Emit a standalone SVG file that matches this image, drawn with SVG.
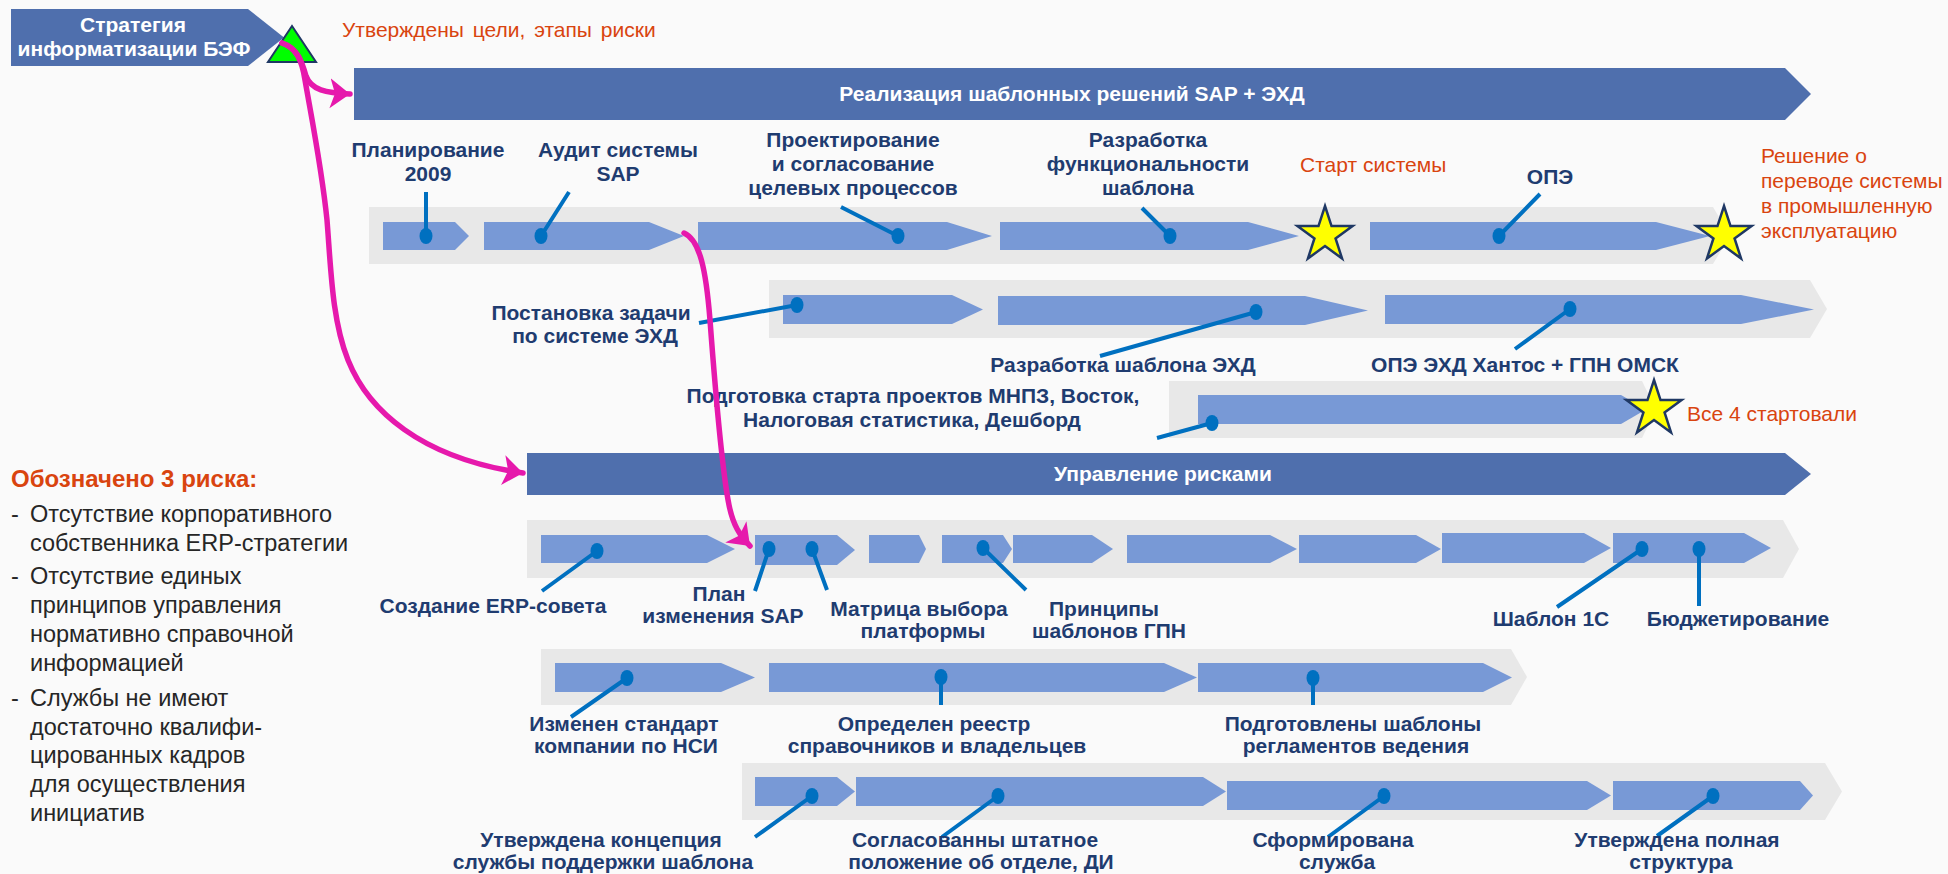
<svg xmlns="http://www.w3.org/2000/svg" xmlns:xlink="http://www.w3.org/1999/xlink" width="1948" height="874" viewBox="0 0 1948 874">
<defs>
<style>
.bg{fill:#FAFAFA}
.band{fill:#E8E8E8}
.chev{fill:#7899D6}
.hdr{fill:#4F6FAD}
.dot{fill:#0070C0}
.lead{stroke:#0070C0;stroke-width:4;fill:none}
.lbl{font-family:"Liberation Sans",Arial,sans-serif;font-weight:bold;font-size:21px;fill:#1F3C70;text-anchor:middle}
.org{font-family:"Liberation Sans",Arial,sans-serif;font-size:21px;fill:#D9440F}
.wht{font-family:"Liberation Sans",Arial,sans-serif;font-weight:bold;font-size:21px;fill:#FFFFFF;text-anchor:middle}
.risk{font-family:"Liberation Sans",Arial,sans-serif;font-size:23.5px;fill:#262626}
.star{fill:#FFFF00;stroke:#1F3864;stroke-width:2.5;stroke-linejoin:miter}
.mag{stroke:#E619AC;stroke-width:5.5;fill:none;stroke-linecap:round}
</style>
<polygon id="star" points="0,-29 6.52,-8.98 27.58,-8.96 10.56,3.43 17.05,23.46 0,11.1 -17.05,23.46 -10.56,3.43 -27.58,-8.96 -6.52,-8.98"/>
<marker id="ah" markerUnits="userSpaceOnUse" markerWidth="24" markerHeight="32" refX="20" refY="15" orient="auto" viewBox="0 0 24 32">
<path d="M0,0 L20,15 L0,30 L5,15 Z" fill="#E619AC"/>
</marker>
</defs>
<rect class="bg" x="0" y="0" width="1948" height="874"/>

<g id="strategy">
<path class="hdr" d="M11,9 L248,9 L284,37.5 L248,66 L11,66 Z"/>
<text class="wht" x="133" y="32">Стратегия</text>
<text class="wht" x="134" y="56">информатизации БЭФ</text>
</g>
<g id="milestone-start">
<polygon points="292,26 268,62 316,62" fill="#00FF00" stroke="#1F3864" stroke-width="2"/>
<text class="org" x="342" y="37" word-spacing="3">Утверждены цели, этапы риски</text>
</g>

<g id="header-sap">
<path class="hdr" d="M354,68 L1785,68 L1811,94 L1785,120 L354,120 Z"/>
<text class="wht" x="1072" y="101">Реализация шаблонных решений SAP + ЭХД</text>
</g>

<g id="row1">
<path class="band" d="M369,207 L1713,207 L1730,235.5 L1713,264 L369,264 Z"/>
<path class="chev" d="M383,222 L455,222 L469,236 L455,250 L383,250 Z"/>
<path class="chev" d="M484,222 L649,222 L684,236 L649,250 L484,250 Z"/>
<path class="chev" d="M698,222 L947,222 L992,236 L947,250 L698,250 Z"/>
<path class="chev" d="M1000,222 L1248,222 L1299,236 L1248,250 L1000,250 Z"/>
<path class="chev" d="M1370,222 L1656,222 L1710,236 L1656,250 L1370,250 Z"/>
</g>
<g id="star-start"><use xlink:href="#star" href="#star" class="star" x="1325" y="235"/>
<text class="org" x="1300" y="172">Старт системы</text></g>
<g id="star-decision"><use xlink:href="#star" href="#star" class="star" x="1724" y="235"/>
<text class="org"><tspan x="1761" y="163">Решение о</tspan><tspan x="1761" y="188">переводе системы</tspan><tspan x="1761" y="213">в промышленную</tspan><tspan x="1761" y="238">эксплуатацию</tspan></text></g>

<g id="row2">
<path class="band" d="M769,280 L1810,280 L1827,309 L1810,338 L769,338 Z"/>
<path class="chev" d="M783,295 L952,295 L983,309.5 L952,324 L783,324 Z"/>
<path class="chev" d="M998,296 L1305,296 L1368,310.5 L1305,325 L998,325 Z"/>
<path class="chev" d="M1385,295 L1741,295 L1814,309.5 L1741,324 L1385,324 Z"/>
</g>

<g id="row3">
<path class="band" d="M1169,381 L1642,381 L1656,409.5 L1642,438 L1169,438 Z"/>
<path class="chev" d="M1198,395 L1621,395 L1646,409.5 L1621,424 L1198,424 Z"/>
</g>
<g id="star-all4"><use xlink:href="#star" href="#star" class="star" x="1654" y="409"/>
<text class="org" x="1687" y="421">Все 4 стартовали</text></g>

<g id="header-risk">
<path class="hdr" d="M527,453 L1785,453 L1811,474 L1785,495 L527,495 Z"/>
<text class="wht" x="1163" y="481">Управление рисками</text>
</g>

<g id="row4">
<path class="band" d="M527,520 L1783,520 L1799,549 L1783,578 L527,578 Z"/>
<path class="chev" d="M541,535 L707,535 L735,549 L707,563 L541,563 Z"/>
<path class="chev" d="M755,535 L837,535 L855,550 L837,565 L755,565 Z"/>
<path class="chev" d="M869,535 L919,535 L926,549 L919,563 L869,563 Z"/>
<path class="chev" d="M942,535 L1003,535 L1012,549 L1003,563 L942,563 Z"/>
<path class="chev" d="M1013,535 L1092,535 L1113,549 L1092,563 L1013,563 Z"/>
<path class="chev" d="M1127,535 L1270,535 L1297,549 L1270,563 L1127,563 Z"/>
<path class="chev" d="M1299,535 L1416,535 L1441,549 L1416,563 L1299,563 Z"/>
<path class="chev" d="M1442,533 L1584,533 L1611,548 L1584,563 L1442,563 Z"/>
<path class="chev" d="M1613,533 L1744,533 L1771,548 L1744,563 L1613,563 Z"/>
</g>

<g id="row5">
<path class="band" d="M541,649 L1511,649 L1527,677 L1511,705 L541,705 Z"/>
<path class="chev" d="M555,663 L721,663 L755,677.5 L721,692 L555,692 Z"/>
<path class="chev" d="M769,663 L1164,663 L1197,677.5 L1164,692 L769,692 Z"/>
<path class="chev" d="M1198,663 L1483,663 L1512,677.5 L1483,692 L1198,692 Z"/>
</g>

<g id="row6">
<path class="band" d="M742,763 L1825,763 L1842,791.5 L1825,820 L742,820 Z"/>
<path class="chev" d="M755,777 L837,777 L855,791.5 L837,806 L755,806 Z"/>
<path class="chev" d="M856,777 L1203,777 L1226,791.5 L1203,806 L856,806 Z"/>
<path class="chev" d="M1227,781 L1587,781 L1611,795.5 L1587,810 L1227,810 Z"/>
<path class="chev" d="M1613,781 L1800,781 L1813,795.5 L1800,810 L1613,810 Z"/>
</g>

<g id="leaders">
<path class="lead" d="M426,236 L426,192 M541,236 L569,192 M898,236 L841,207 M1170,236 L1142,208 M1499,236 L1540,194"/>
<path class="lead" d="M797,305 L699,323 M1256,312 L1100,356 M1570,309 L1515,349 M1212,423 L1157,438"/>
<path class="lead" d="M597,551 L542,591 M769,549 L755,591 M812,549 L827,590 M983,548 L1026,590 M1642,549 L1557,607 M1699,549 L1699,606"/>
<path class="lead" d="M627,678 L571,717 M941,677 L941,705 M1313,678 L1313,705"/>
<path class="lead" d="M812,796 L755,837 M998,796 L942,837 M1384,796 L1328,837 M1713,796 L1657,836"/>
<g class="dot">
<ellipse cx="426" cy="236" rx="6.5" ry="8"/><ellipse cx="541" cy="236" rx="6.5" ry="8"/><ellipse cx="898" cy="236" rx="6.5" ry="8"/><ellipse cx="1170" cy="236" rx="6.5" ry="8"/><ellipse cx="1499" cy="236" rx="6.5" ry="8"/>
<ellipse cx="797" cy="305" rx="6.5" ry="8"/><ellipse cx="1256" cy="312" rx="6.5" ry="8"/><ellipse cx="1570" cy="309" rx="6.5" ry="8"/><ellipse cx="1212" cy="423" rx="6.5" ry="8"/>
<ellipse cx="597" cy="551" rx="6.5" ry="8"/><ellipse cx="769" cy="549" rx="6.5" ry="8"/><ellipse cx="812" cy="549" rx="6.5" ry="8"/><ellipse cx="983" cy="548" rx="6.5" ry="8"/><ellipse cx="1642" cy="549" rx="6.5" ry="8"/><ellipse cx="1699" cy="549" rx="6.5" ry="8"/>
<ellipse cx="627" cy="678" rx="6.5" ry="8"/><ellipse cx="941" cy="677" rx="6.5" ry="8"/><ellipse cx="1313" cy="678" rx="6.5" ry="8"/>
<ellipse cx="812" cy="796" rx="6.5" ry="8"/><ellipse cx="998" cy="796" rx="6.5" ry="8"/><ellipse cx="1384" cy="796" rx="6.5" ry="8"/><ellipse cx="1713" cy="796" rx="6.5" ry="8"/>
</g>
</g>

<g id="labels-row1">
<text class="lbl"><tspan x="428" y="157">Планирование</tspan><tspan x="428" y="181">2009</tspan></text>
<text class="lbl"><tspan x="618" y="157">Аудит системы</tspan><tspan x="618" y="181">SAP</tspan></text>
<text class="lbl"><tspan x="853" y="147">Проектирование</tspan><tspan x="853" y="171">и согласование</tspan><tspan x="853" y="195">целевых процессов</tspan></text>
<text class="lbl"><tspan x="1148" y="147">Разработка</tspan><tspan x="1148" y="171">функциональности</tspan><tspan x="1148" y="195">шаблона</tspan></text>
<text class="lbl" x="1550" y="184">ОПЭ</text>
</g>
<g id="labels-row2">
<text class="lbl"><tspan x="591" y="320">Постановка задачи</tspan><tspan x="595" y="343">по системе ЭХД</tspan></text>
<text class="lbl" x="1123" y="372">Разработка шаблона ЭХД</text>
<text class="lbl" x="1525" y="372">ОПЭ ЭХД Хантос + ГПН ОМСК</text>
</g>
<g id="labels-row3">
<text class="lbl"><tspan x="913" y="403">Подготовка старта проектов МНПЗ, Восток,</tspan><tspan x="912" y="427">Налоговая статистика, Дешборд</tspan></text>
</g>
<g id="labels-row4">
<text class="lbl" x="493" y="613">Создание ERP-совета</text>
<text class="lbl"><tspan x="719" y="601">План</tspan><tspan x="723" y="623">изменения SAP</tspan></text>
<text class="lbl"><tspan x="919" y="616">Матрица выбора</tspan><tspan x="923" y="638">платформы</tspan></text>
<text class="lbl"><tspan x="1104" y="616">Принципы</tspan><tspan x="1109" y="638">шаблонов ГПН</tspan></text>
<text class="lbl" x="1551" y="626">Шаблон 1С</text>
<text class="lbl" x="1738" y="626">Бюджетирование</text>
</g>
<g id="labels-row5">
<text class="lbl"><tspan x="624" y="731">Изменен стандарт</tspan><tspan x="626" y="753">компании по НСИ</tspan></text>
<text class="lbl"><tspan x="934" y="731">Определен реестр</tspan><tspan x="937" y="753">справочников и владельцев</tspan></text>
<text class="lbl"><tspan x="1353" y="731">Подготовлены шаблоны</tspan><tspan x="1356" y="753">регламентов ведения</tspan></text>
</g>
<g id="labels-row6">
<text class="lbl"><tspan x="601" y="847">Утверждена концепция</tspan><tspan x="603" y="869">службы поддержки шаблона</tspan></text>
<text class="lbl"><tspan x="975" y="847">Согласованны штатное</tspan><tspan x="981" y="869">положение об отделе, ДИ</tspan></text>
<text class="lbl"><tspan x="1333" y="847">Сформирована</tspan><tspan x="1337" y="869">служба</tspan></text>
<text class="lbl"><tspan x="1677" y="847">Утверждена полная</tspan><tspan x="1681" y="869">структура</tspan></text>
</g>

<g id="risks">
<text x="11" y="487" font-family="Liberation Sans, Arial, sans-serif" font-weight="bold" font-size="24" fill="#D9440F">Обозначено 3 риска:</text>
<text class="risk">
<tspan x="11" y="522">-</tspan><tspan x="30" y="522">Отсутствие корпоративного</tspan>
<tspan x="30" y="551">собственника ERP-стратегии</tspan>
<tspan x="11" y="584">-</tspan><tspan x="30" y="584">Отсутствие единых</tspan>
<tspan x="30" y="613">принципов управления</tspan>
<tspan x="30" y="642">нормативно справочной</tspan>
<tspan x="30" y="671">информацией</tspan>
<tspan x="11" y="706">-</tspan><tspan x="30" y="706">Службы не имеют</tspan>
<tspan x="30" y="735">достаточно квалифи-</tspan>
<tspan x="30" y="763">цированных кадров</tspan>
<tspan x="30" y="792">для осуществления</tspan>
<tspan x="30" y="821">инициатив</tspan>
</text>
</g>

<g id="connectors">
<path class="mag" marker-end="url(#ah)" d="M282,43 C298,48 302,62 306,76 C311,90 326,93 350,94"/>
<path class="mag" marker-end="url(#ah)" d="M282,43 C296,48 302,60 305,80 C312,120 322,170 327,220 C331,270 332,320 348,360 C368,410 420,458 523,473"/>
<path class="mag" marker-end="url(#ah)" d="M684,233 C700,240 706,270 710,320 C716,400 722,470 729,505 C733,525 740,536 750,546"/>
</g>
</svg>
